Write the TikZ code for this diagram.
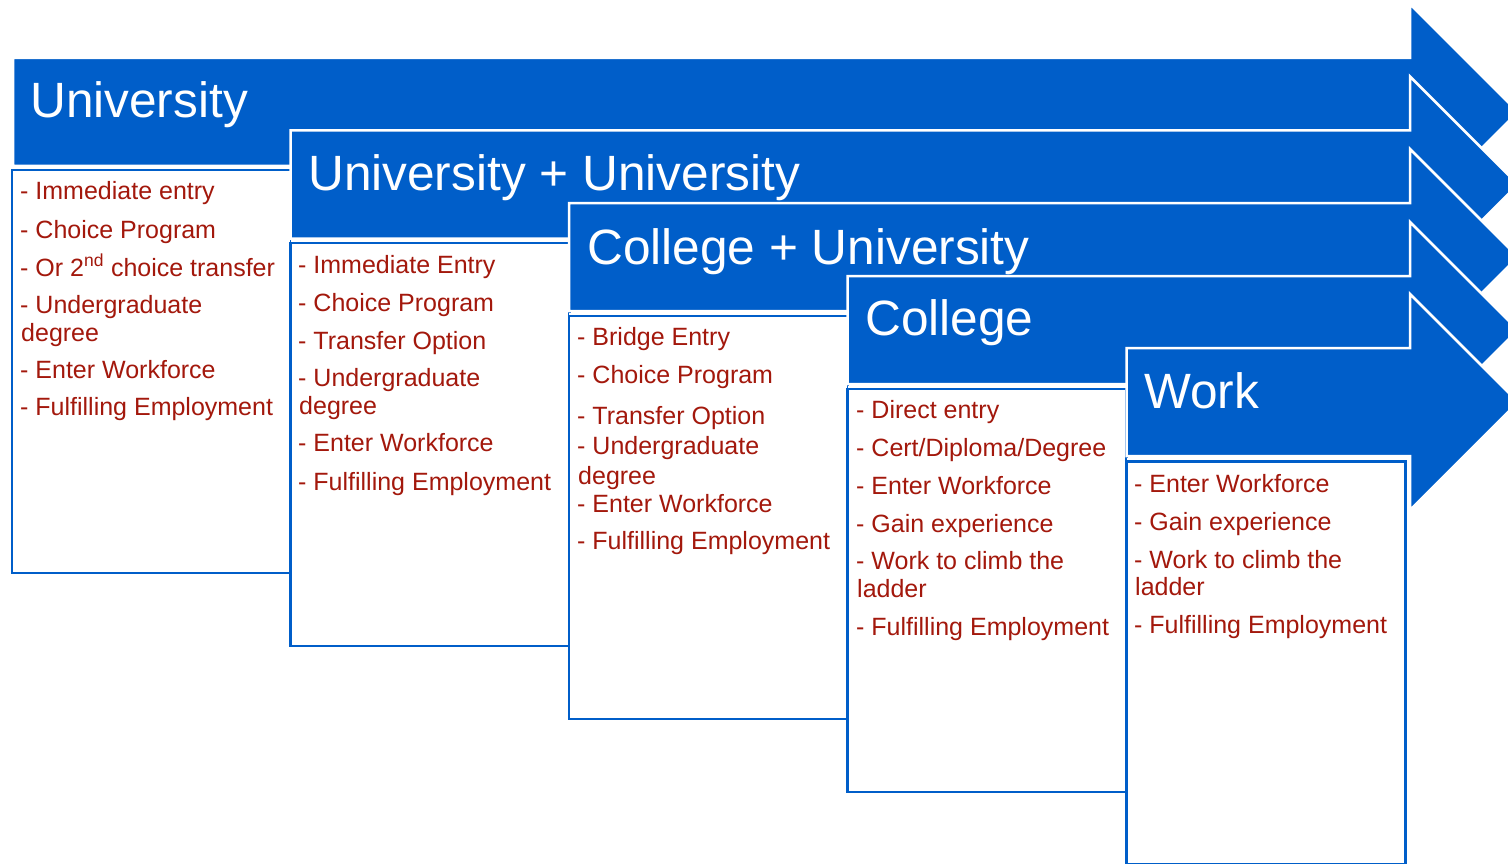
\documentclass[tikz,border=0pt]{standalone}
\usepackage{fontspec}
\setmainfont{Liberation Sans}
\definecolor{arrowblue}{RGB}{0,94,201}
\definecolor{itemred}{RGB}{163,24,12}
\newcommand{\stagearrow}[2]{%
  \path[arrowshape] (#1,#2) -- (1410,#2) -- (1410,#2-54) -- (1518,#2+54) -- (1410,#2+162) -- (1410,#2+108) -- (#1,#2+108) -- cycle;}
\newcommand{\stagebox}[2]{%
  \draw[boxhalo] (#1,#2) -- ++(279,0) -- ++(0,403);
  \draw[itembox] (#1,#2) rectangle ++(279,403);}
\begin{document}
\begin{tikzpicture}[x=1pt,y=-1pt,
  arrowshape/.style={fill=arrowblue, draw=white, line width=2.5pt, line join=miter},
  itembox/.style={draw=arrowblue, line width=2.5pt, fill=white},
  boxhalo/.style={draw=white, line width=7pt},
  title/.style={anchor=base west, text=white, font=\fontsize{49.6}{58}\selectfont, inner sep=0pt},
  item/.style={anchor=base west, text=itemred, font=\fontsize{25}{29}\selectfont, inner sep=0pt}]
\useasboundingbox (0,0) rectangle (1508,864);
\clip (0,0) rectangle (1508,864);

% ---- Stage 1: University
\stagearrow{13}{58}
\node[title] (t1) at (30,118) {University};
\stagebox{12}{170}
\node[item] (a1) at (20,200) {- Immediate entry};
\node[item] (a2) at (20,238) {- Choice Program};
\node[item] (a3) at (20,276) {- Or 2\textsuperscript{nd} choice transfer};
\node[item] (a4) at (20,313) {- Undergraduate};
\node[item] (a5) at (21,341) {degree};
\node[item] (a6) at (20,378) {- Enter Workforce};
\node[item] (a7) at (20,415) {- Fulfilling Employment};

% ---- Stage 2: University + University
\stagearrow{290.5}{130.5}
\node[title] (t2) at (308,190) {University + University};
\stagebox{290.5}{243}
\node[item] (b1) at (298,273) {- Immediate Entry};
\node[item] (b2) at (298,311) {- Choice Program};
\node[item] (b3) at (298,349) {- Transfer Option};
\node[item] (b4) at (298,386) {- Undergraduate};
\node[item] (b5) at (299,414) {degree};
\node[item] (b6) at (298,451) {- Enter Workforce};
\node[item] (b7) at (298,490) {- Fulfilling Employment};

% ---- Stage 3: College + University
\stagearrow{569}{203}
\node[title] (t3) at (587,264) {College + University};
\stagebox{569}{316}
\node[item] (c1) at (577,345) {- Bridge Entry};
\node[item] (c2) at (577,383) {- Choice Program};
\node[item] (c3) at (577,424) {- Transfer Option};
\node[item] (c4) at (577,454) {- Undergraduate};
\node[item] (c5) at (578,484) {degree};
\node[item] (c6) at (577,512) {- Enter Workforce};
\node[item] (c7) at (577,549) {- Fulfilling Employment};

% ---- Stage 4: College
\stagearrow{847.5}{276}
\node[title] (t4) at (865,335) {College};
\stagebox{847.5}{389}
\node[item] (d1) at (856,418) {- Direct entry};
\node[item] (d2) at (856,456) {- Cert/Diploma/Degree};
\node[item] (d3) at (856,494) {- Enter Workforce};
\node[item] (d4) at (856,532) {- Gain experience};
\node[item] (d5) at (856,569) {- Work to climb the};
\node[item] (d6) at (857,597) {ladder};
\node[item] (d7) at (856,635) {- Fulfilling Employment};

% ---- Stage 5: Work
\stagearrow{1126.5}{348}
\node[title] (t5) at (1144,408) {Work};
\stagebox{1126.5}{461.5}
\node[item] (e1) at (1134,492) {- Enter Workforce};
\node[item] (e2) at (1134,530) {- Gain experience};
\node[item] (e3) at (1134,568) {- Work to climb the};
\node[item] (e4) at (1135,595) {ladder};
\node[item] (e5) at (1134,633) {- Fulfilling Employment};
\end{tikzpicture}
\end{document}
